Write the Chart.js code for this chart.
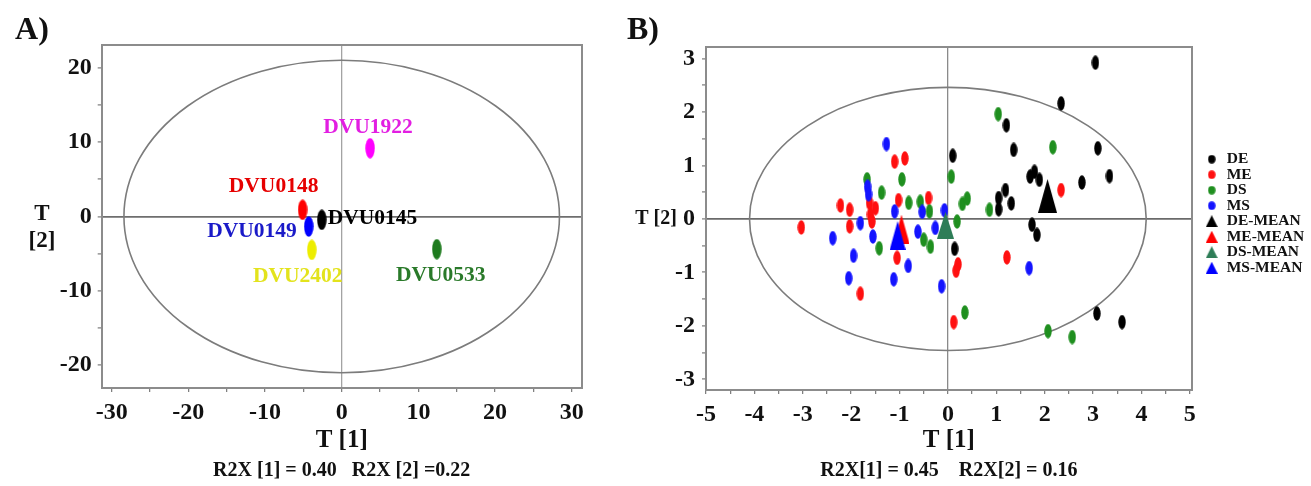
<!DOCTYPE html>
<html>
<head>
<meta charset="utf-8">
<script src="https://cdn.jsdelivr.net/npm/chart.js@4.4.1/dist/chart.umd.min.js"></script>
<style>
  html, body { margin: 0; padding: 0; background: #ffffff; overflow: hidden; }
  #wrap { position: relative; width: 1311px; height: 486px; overflow: hidden; background: #ffffff; }
  #wrap canvas { position: absolute; top: 0; }
  #cA { left: 0; }
  #cB { left: 625px; }
</style>
</head>
<body>
<div id="wrap">
  <canvas id="cA" width="625" height="486"></canvas>
  <canvas id="cB" width="700" height="486"></canvas>
</div>
<script>
// ---------------- Panel A: PCA scores of the knockout strains ----------------
const strainNames  = ['DVU0148', 'DVU0149', 'DVU0145', 'DVU2402', 'DVU1922', 'DVU0533'];
const strainT1     = [-5.1, -4.3, -2.6, -3.9, 3.7, 12.4];
const strainT2     = [0.9, -1.35, -0.45, -4.5, 9.2, -4.4];
const ticksA_T1    = [-30, -25, -20, -15, -10, -5, 0, 5, 10, 15, 20, 25, 30];
const ticksA_T2    = [-20, -15, -10, -5, 0, 5, 10, 15, 20];
const hotellingA   = { rx: 28.4, ry: 21.05 };

// ---------------- Panel B: PCA scores by group ----------------
const groupDE = [[3.05, 2.92], [2.34, 2.16], [1.21, 1.75], [1.36, 1.29], [3.10, 1.32], [0.10, 1.18],
                 [1.79, 0.88], [1.70, 0.79], [1.89, 0.73], [3.34, 0.80], [2.77, 0.68], [1.19, 0.54],
                 [1.05, 0.39], [1.31, 0.29], [1.05, 0.18], [1.74, -0.11], [1.84, -0.30], [0.14, -0.56],
                 [3.08, -1.77], [3.60, -1.93]];
const groupME = [[-1.10, 1.07], [-0.89, 1.13], [-2.22, 0.25], [-2.03, 0.17], [-1.62, 0.30], [-1.50, 0.20],
                 [-1.60, 0.08], [-1.57, -0.05], [-1.02, 0.35], [-0.40, 0.39], [-3.03, -0.16], [-2.03, -0.14],
                 [-1.81, -1.40], [-1.05, -0.73], [2.34, 0.54], [1.22, -0.72], [0.21, -0.85], [0.17, -0.97],
                 [0.12, -1.93]];
const groupDS = [[-1.67, 0.74], [-0.95, 0.74], [-1.37, 0.49], [-0.81, 0.30], [-0.57, 0.32], [-0.38, 0.14],
                 [0.07, 0.79], [0.19, -0.05], [-1.42, -0.55], [-0.50, -0.39], [-0.36, -0.52], [1.04, 1.96],
                 [2.17, 1.34], [0.86, 0.17], [0.30, 0.28], [0.40, 0.38], [0.35, -1.75], [2.07, -2.10],
                 [2.57, -2.21]];
const groupMS = [[-1.27, 1.40], [-1.66, 0.60], [-1.64, 0.46], [-1.10, 0.14], [-0.53, 0.13], [-0.07, 0.16],
                 [-2.38, -0.36], [-1.81, -0.08], [-1.55, -0.33], [-1.95, -0.69], [-2.05, -1.11], [-0.82, -0.88],
                 [-1.12, -1.13], [-0.62, -0.24], [-0.26, -0.17], [-0.13, -1.26], [1.68, -0.92]];
const meanDE = [2.06, 0.43];
const meanME = [-0.96, -0.19];
const meanDS = [-0.05, -0.12];
const meanMS = [-1.04, -0.31];
const ticksB_T1  = [-5, -4.5, -4, -3.5, -3, -2.5, -2, -1.5, -1, -0.5, 0, 0.5, 1, 1.5, 2, 2.5, 3, 3.5, 4, 4.5, 5];
const ticksB_T2  = [-3, -2.5, -2, -1.5, -1, -0.5, 0, 0.5, 1, 1.5, 2, 2.5, 3];
const hotellingB = { rx: 4.1, ry: 2.46 };

// ---------------- shared styling ----------------
const SERIF = '"Liberation Serif", "Times New Roman", serif';
const INK = '#111111';
const FRAME = '#8c8c8c';

function ovalMarker(w, h, color) {
  const c = document.createElement('canvas');
  c.width = w; c.height = h;
  const g = c.getContext('2d');
  g.fillStyle = color;
  g.beginPath();
  g.ellipse(w / 2, h / 2, w / 2 - 0.3, h / 2 - 0.3, 0, 0, Math.PI * 2);
  g.fill();
  return c;
}
function triangleMarker(w, h, color) {
  const c = document.createElement('canvas');
  c.width = w; c.height = h;
  const g = c.getContext('2d');
  g.fillStyle = color;
  g.beginPath();
  g.moveTo(w / 2, 0);
  g.lineTo(w, h);
  g.lineTo(0, h);
  g.closePath();
  g.fill();
  return c;
}
const toPoints = arr => arr.map(p => ({ x: p[0], y: p[1] }));

// Hotelling T2 ellipse, drawn through the chart's own scales
const confEllipse = {
  id: 'confEllipse',
  beforeDatasetsDraw(chart, args, opts) {
    const { ctx, chartArea, scales: { x, y } } = chart;
    const cx = x.getPixelForValue(0), cy = y.getPixelForValue(0);
    const rx = x.getPixelForValue(opts.rx) - cx;
    const ry = cy - y.getPixelForValue(opts.ry);
    ctx.save();
    ctx.beginPath();
    ctx.rect(chartArea.left, chartArea.top, chartArea.right - chartArea.left, chartArea.bottom - chartArea.top);
    ctx.clip();
    ctx.strokeStyle = opts.color;
    ctx.lineWidth = opts.width;
    ctx.beginPath();
    ctx.ellipse(cx, cy, rx, ry, 0, 0, Math.PI * 2);
    ctx.stroke();
    ctx.restore();
  }
};

// free text around the frame: panel letter, unrotated T[2] label, R2X note
const frameText = {
  id: 'frameText',
  afterDraw(chart, args, opts) {
    const { ctx, chartArea } = chart;
    ctx.save();
    ctx.textBaseline = 'middle';
    for (const t of opts.items) {
      ctx.font = t.font;
      ctx.fillStyle = t.color || INK;
      ctx.textAlign = t.align || 'center';
      const x = t.x === 'mid' ? (chartArea.left + chartArea.right) / 2 : t.x;
      ctx.fillText(t.text, x, t.y);
    }
    ctx.restore();
  }
};

function valueAxis(opts) {
  return {
    type: 'linear',
    position: opts.position,
    min: opts.min,
    max: opts.max,
    afterBuildTicks: s => { s.ticks = opts.ticks.map(v => ({ value: v })); },
    afterFit: opts.fit,
    ticks: {
      autoSkip: false,
      maxRotation: 0,
      padding: opts.pad,
      color: INK,
      font: { family: SERIF, size: 24, weight: 'bold' },
      callback: v => (Math.abs(v % opts.labelStep) < 1e-9 ? String(v) : '')
    },
    grid: {
      drawOnChartArea: true,
      drawTicks: true,
      tickLength: 4,
      tickColor: '#7a7a7a',
      tickWidth: 1.2,
      color: c => (c.tick && c.tick.value === 0 ? opts.zeroColor : 'rgba(0,0,0,0)'),
      lineWidth: opts.zeroWidth
    },
    border: { display: true, color: FRAME, width: 2 },
    title: opts.title || { display: false }
  };
}
function frameEdge(position, min, max, fit) {
  return {
    type: 'linear', position, min, max,
    afterFit: fit,
    ticks: { display: false },
    grid: { display: true, drawOnChartArea: false, drawTicks: false },
    border: { display: true, color: FRAME, width: 2 }
  };
}

// ---------------- Chart A ----------------
const strainColors = ['#ff0000', '#0000ff', '#000000', '#eded00', '#ff00ff', '#1d7a1d'];
const strainTagColors = ['#e60000', '#1a1ac8', '#000000', '#e3e31c', '#e21ee2', '#2a7a2a'];
const strainTagPlace = [[-29, -23, 'center'], [-12, 5, 'right'], [6, -1, 'left'],
                        [-14, 27, 'center'], [-2, -21, 'center'], [4, 26, 'center']];

const strainTags = {
  id: 'strainTags',
  afterDatasetsDraw(chart) {
    const { ctx } = chart;
    const meta = chart.getDatasetMeta(0);
    ctx.save();
    ctx.font = 'bold 21.5px ' + SERIF;
    ctx.textBaseline = 'middle';
    meta.data.forEach((pt, i) => {
      const p = strainTagPlace[i];
      ctx.fillStyle = strainTagColors[i];
      ctx.textAlign = p[2];
      ctx.fillText(strainNames[i], pt.x + p[0], pt.y + p[1]);
    });
    ctx.restore();
  }
};

new Chart(document.getElementById('cA'), {
  type: 'scatter',
  data: {
    datasets: [{
      label: 'strains',
      data: strainT1.map((v, i) => ({ x: v, y: strainT2[i] })),
      pointStyle: strainColors.map(c => ovalMarker(10, 21, c)),
      pointRadius: 6,
      pointHoverRadius: 6,
      backgroundColor: strainColors
    }]
  },
  options: {
    responsive: false,
    animation: false,
    devicePixelRatio: 1,
    events: [],
    layout: { padding: { left: 0, top: 45, right: 43.3, bottom: 0 } },
    plugins: {
      legend: { display: false },
      tooltip: { enabled: false },
      confEllipse: { rx: hotellingA.rx, ry: hotellingA.ry, color: '#7c7c7c', width: 1.6 },
      frameText: {
        items: [
          { text: 'A)', x: 32, y: 31, font: 'bold 32px ' + SERIF },
          { text: 'T', x: 42, y: 214, font: 'bold 23px ' + SERIF },
          { text: '[2]', x: 42, y: 241, font: 'bold 23px ' + SERIF },
          { text: 'R2X [1] = 0.40   R2X [2] =0.22', x: 'mid', y: 471, font: 'bold 20px ' + SERIF }
        ]
      }
    },
    scales: {
      x: valueAxis({
        position: 'bottom', min: -31.3, max: 31.3, ticks: ticksA_T1, labelStep: 10, pad: 6,
        fit: s => { s.height = 98; }, zeroColor: '#a3a3a3', zeroWidth: 1.3,
        title: { display: true, text: 'T [1]', color: INK, font: { family: SERIF, size: 25, weight: 'bold' }, padding: { top: 0, bottom: 30 } }
      }),
      y: valueAxis({
        position: 'left', min: -23.1, max: 23.1, ticks: ticksA_T2, labelStep: 10, pad: 6,
        fit: s => { s.width = 101.7; }, zeroColor: '#6e6e6e', zeroWidth: 1.8
      }),
      top: frameEdge('top', -31.3, 31.3, s => { s.height = 0; }),
      right: frameEdge('right', -23.1, 23.1, s => { s.width = 0; })
    }
  },
  plugins: [confEllipse, strainTags, frameText]
});

// ---------------- Chart B ----------------
const groupSpecs = [
  { label: 'DE', data: groupDE, color: '#000000', order: 13, shape: 'oval' },
  { label: 'ME', data: groupME, color: '#ff1010', order: 14, shape: 'oval' },
  { label: 'DS', data: groupDS, color: '#1f8f1f', order: 12, shape: 'oval' },
  { label: 'MS', data: groupMS, color: '#1414ff', order: 11, shape: 'oval' },
  { label: 'DE-MEAN', data: [meanDE], color: '#000000', order: 3, shape: 'tri', w: 19, h: 34 },
  { label: 'ME-MEAN', data: [meanME], color: '#ff0000', order: 4, shape: 'tri', w: 16, h: 29 },
  { label: 'DS-MEAN', data: [meanDS], color: '#2e7d57', order: 1, shape: 'tri', w: 17, h: 27 },
  { label: 'MS-MEAN', data: [meanMS], color: '#0000ff', order: 2, shape: 'tri', w: 16, h: 29 }
];
const legendMarks = groupSpecs.map(g => g.shape === 'oval' ? ovalMarker(8, 9, g.color) : triangleMarker(12, 12, g.color));

// legend sizing: the legend box sits right of a thin spacer axis, so the plot frame
// keeps its place whatever the label widths are
const LEGEND_FONT = 15.5;
const LEGEND_BOX = 14.5;
const measureCtx = document.createElement('canvas').getContext('2d');
measureCtx.font = 'bold ' + LEGEND_FONT + 'px ' + SERIF;
const legendTextW = Math.max(...groupSpecs.map(g => measureCtx.measureText(g.label).width));
const legendW = LEGEND_BOX + LEGEND_FONT / 2 + legendTextW + 10;
const PLOT_RIGHT_B = 566.7, SPACER_B = 12.75;
const padRightB = 700 - PLOT_RIGHT_B - SPACER_B - legendW;

new Chart(document.getElementById('cB'), {
  type: 'scatter',
  data: {
    datasets: groupSpecs.map(g => ({
      label: g.label,
      data: toPoints(g.data),
      order: g.order,
      backgroundColor: g.color,
      borderColor: g.color,
      pointStyle: g.shape === 'oval' ? ovalMarker(8, 15, g.color) : triangleMarker(g.w, g.h, g.color),
      pointRadius: 5,
      pointHoverRadius: 5
    }))
  },
  options: {
    responsive: false,
    animation: false,
    devicePixelRatio: 1,
    events: [],
    layout: { padding: { left: 0, top: 46.7, right: padRightB, bottom: 0 } },
    plugins: {
      tooltip: { enabled: false },
      legend: {
        display: true,
        position: 'right',
        align: 'start',
        fullSize: false,
        title: { display: true, text: '', font: { size: 12 }, padding: { top: 90.4, bottom: 0 } },
        labels: {
          usePointStyle: true,
          boxWidth: LEGEND_BOX,
          boxHeight: 9,
          padding: 0,
          color: INK,
          font: { family: SERIF, size: LEGEND_FONT, weight: 'bold' },
          generateLabels: chart => chart.data.datasets.map((ds, i) => ({
            text: ds.label,
            fontColor: INK,
            pointStyle: legendMarks[i],
            fillStyle: ds.backgroundColor,
            strokeStyle: ds.backgroundColor,
            lineWidth: 0,
            hidden: false,
            datasetIndex: i
          }))
        }
      },
      confEllipse: { rx: hotellingB.rx, ry: hotellingB.ry, color: '#7c7c7c', width: 1.6 },
      frameText: {
        items: [
          { text: 'B)', x: 18, y: 31, font: 'bold 32px ' + SERIF },
          { text: 'T [2]', x: 31, y: 219, font: 'bold 20px ' + SERIF },
          { text: 'R2X[1] = 0.45    R2X[2] = 0.16', x: 'mid', y: 471, font: 'bold 20px ' + SERIF }
        ]
      }
    },
    scales: {
      x: valueAxis({
        position: 'bottom', min: -5, max: 5.04, ticks: ticksB_T1, labelStep: 1, pad: 6,
        fit: s => { s.height = 96; }, zeroColor: '#8a8a8a', zeroWidth: 1.3,
        title: { display: true, text: 'T [1]', color: INK, font: { family: SERIF, size: 25, weight: 'bold' }, padding: { top: 0, bottom: 30 } }
      }),
      y: valueAxis({
        position: 'left', min: -3.2, max: 3.22, ticks: ticksB_T2, labelStep: 1, pad: 7,
        fit: s => { s.width = 81; }, zeroColor: '#6a6a6a', zeroWidth: 1.8
      }),
      top: frameEdge('top', -5, 5.04, s => { s.height = 0; }),
      right: frameEdge('right', -3.2, 3.22, s => { s.width = SPACER_B; })
    }
  },
  plugins: [confEllipse, frameText]
});
</script>
</body>
</html>
